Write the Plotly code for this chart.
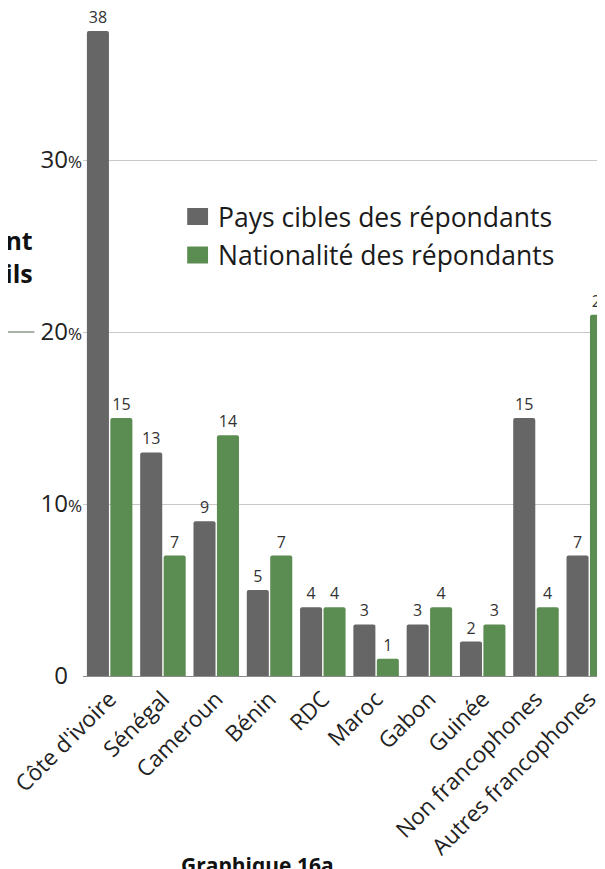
import plotly.graph_objects as go

# ---- data ----
categories = ["Côte d'ivoire", "Sénégal", "Cameroun", "Bénin", "RDC", "Maroc",
              "Gabon", "Guinée", "Non francophones", "Autres francophones"]
pays_cibles = [37.5, 13, 9, 5, 4, 3, 3, 2, 15, 7]
nationalite = [15, 7, 14, 7, 4, 1, 4, 3, 4, 21]
series_names = ["Pays cibles des répondants", "Nationalité des répondants"]
series_colors = ["#666666", "#5b8c51"]
y_tickvals = [0, 10, 20, 30]
y_ticklabels = ["0", "10", "20", "30"]
side_title = "nt<br>ils"
caption = "Graphique 16a"

FONT = "Open Sans"
OFF = 8                      # page body margin in the browser
W, H = 605 - OFF, 869 - OFF  # figure fills the visible window
ML, MR, MT = 79 - OFF, 0, 0
ZERO_PAGE_Y = 676            # page y of the value 0
MB = H - (ZERO_PAGE_Y - OFF)
PW, PH = W - ML - MR, H - MT - MB
CAT_PX = 53.7                # category spacing (px)
UNIT_PX = 17.2               # px per 1 %


def px_x(page_x):
    return (page_x - OFF - ML) / PW


def px_y(page_y):
    return (ZERO_PAGE_Y - page_y) / PH


fig = go.Figure()
for vals, name, col in zip([pays_cibles, nationalite], series_names, series_colors):
    fig.add_trace(go.Bar(
        x=categories, y=vals, name=name,
        marker=dict(color=col, line=dict(width=0), cornerradius=2),
        texttemplate="%{y:.0f}", textposition="outside",
        textfont=dict(family=FONT, size=16, color="#333333"),
        cliponaxis=False,
        showlegend=False,
    ))

ticktext = []
for t in y_ticklabels:
    if t == "0":
        ticktext.append("0<span style='font-size:17px;color:rgba(0,0,0,0)'>%</span>")
    else:
        ticktext.append(t + "<span style='font-size:17px'>%</span>")

fig.update_layout(
    width=W, height=H,
    margin=dict(l=ML, r=MR, t=MT, b=MB, pad=0),
    paper_bgcolor="white", plot_bgcolor="white",
    barmode="group", bargap=0.12, bargroupgap=0.06,
    font=dict(family=FONT, color="#222222"),
    xaxis=dict(
        range=[-0.5, -0.5 + PW / CAT_PX],
        tickangle=-45, tickfont=dict(family=FONT, size=22.5, color="#222222"),
        showline=True, linecolor="#8c8c8c", linewidth=1,
        showgrid=False, ticks="", fixedrange=True,
    ),
    yaxis=dict(
        range=[0, PH / UNIT_PX],
        tickvals=y_tickvals, ticktext=ticktext,
        tickfont=dict(family=FONT, size=24, color="#222222"),
        showgrid=True, gridcolor="#c8c8c8", gridwidth=1,
        zeroline=False, ticks="", showline=False,
    ),
)

# manual legend (larger swatches as in the reference)
legend_rows = [(208, 225, 216.5), (246.5, 263.5, 255)]
for (top, bot, mid), name, col in zip(legend_rows, series_names, series_colors):
    fig.add_shape(type="rect", xref="paper", yref="paper",
                  x0=px_x(184), x1=px_x(205), y0=px_y(bot), y1=px_y(top),
                  fillcolor=col, line=dict(width=0))
    fig.add_annotation(xref="paper", yref="paper", x=px_x(213), y=px_y(mid),
                       xanchor="left", yanchor="middle", showarrow=False,
                       text=name, font=dict(family=FONT, size=26.5, color="#1a1a1a"))

# cropped neighbouring elements visible at the left / bottom edge
fig.add_annotation(xref="paper", yref="paper", x=px_x(31), y=px_y(256),
                   xanchor="right", yanchor="middle", align="right", showarrow=False,
                   text="<b>" + side_title + "</b>",
                   font=dict(family=FONT, size=25, color="#111111"))
fig.add_shape(type="line", xref="paper", yref="y",
              x0=px_x(0), x1=px_x(30), y0=20, y1=20,
              line=dict(color="#8a9a86", width=1.5))
fig.add_annotation(xref="paper", yref="paper", x=px_x(255), y=px_y(865),
                   xanchor="center", yanchor="middle", showarrow=False,
                   text="<b>" + caption + "</b>",
                   font=dict(family=FONT, size=21, color="#111111"))

fig.write_html("out.html")
